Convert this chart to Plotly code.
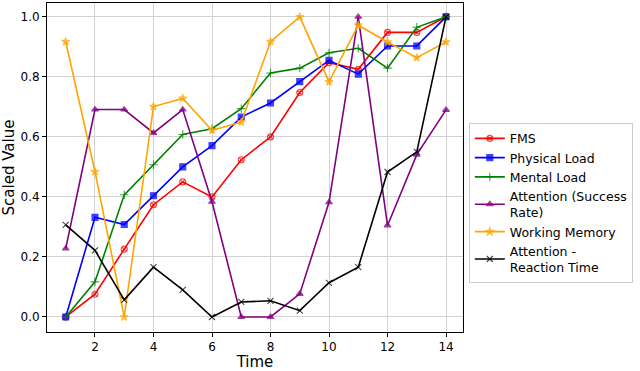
import plotly.graph_objects as go

time = list(range(1, 15))

fms = [0.0, 0.076, 0.226, 0.374, 0.45, 0.40, 0.524, 0.60, 0.748, 0.847, 0.825, 0.948, 0.948, 1.0]
physical_load = [0.0, 0.332, 0.308, 0.404, 0.50, 0.571, 0.666, 0.713, 0.784, 0.855, 0.809, 0.903, 0.903, 1.0]
mental_load = [0.0, 0.117, 0.407, 0.507, 0.608, 0.627, 0.694, 0.813, 0.829, 0.880, 0.895, 0.829, 0.965, 1.0]
attention_success = [0.228, 0.691, 0.691, 0.613, 0.691, 0.384, 0.0, 0.0, 0.077, 0.382, 1.0, 0.305, 0.541, 0.690]
working_memory = [0.917, 0.484, 0.0, 0.701, 0.728, 0.622, 0.649, 0.917, 1.0, 0.783, 0.972, 0.916, 0.864, 0.916]
attention_reaction = [0.307, 0.222, 0.057, 0.166, 0.09, 0.0, 0.05, 0.054, 0.021, 0.114, 0.166, 0.483, 0.55, 1.0]

series = [
    ("FMS", fms, "red", "circle-x-open"),
    ("Physical Load", physical_load, "blue", "square"),
    ("Mental Load", mental_load, "green", "cross-thin-open"),
    ("Attention (Success<br>Rate)", attention_success, "purple", "triangle-up"),
    ("Working Memory", working_memory, "orange", "star"),
    ("Attention -<br>Reaction Time", attention_reaction, "black", "x-thin-open"),
]

fig = go.Figure()
for name, vals, color, sym in series:
    fig.add_trace(go.Scatter(
        x=time, y=vals, name=name, mode="lines+markers",
        line=dict(color=color, width=1.6),
        marker=dict(symbol=sym, size=6, color=color, opacity=0.75,
                    line=dict(color=color, width=1.1)),
    ))

axis_style = dict(
    showline=True, linecolor="black", linewidth=1, mirror=True,
    showgrid=True, gridcolor="#d3d3d3", gridwidth=1,
    ticks="outside", ticklen=4, tickcolor="black", zeroline=False,
    tickfont=dict(size=12, color="black"),
)

fig.update_layout(
    width=640, height=371,
    margin=dict(l=47, r=177, t=2, b=37),
    paper_bgcolor="white", plot_bgcolor="white",
    font=dict(family="DejaVu Sans", size=12, color="black"),
    xaxis=dict(axis_style, range=[0.36, 14.58], tickvals=[2, 4, 6, 8, 10, 12, 14],
               title=dict(text="Time", font=dict(size=15), standoff=4)),
    yaxis=dict(axis_style, range=[-0.05, 1.046], tickvals=[0, 0.2, 0.4, 0.6, 0.8, 1.0],
               tickformat=".1f",
               title=dict(text="Scaled Value", font=dict(size=15), standoff=6)),
    legend=dict(x=1.014, y=0.636, xanchor="left", yanchor="top",
                bordercolor="#cccccc", borderwidth=1, font=dict(size=12.5),
                tracegroupgap=0, itemwidth=30),
)

# the page's default body margin would push the figure 8px right and down
fig.write_html("out.html", config={"displayModeBar": False},
               post_script="document.body.style.margin='0px';")
